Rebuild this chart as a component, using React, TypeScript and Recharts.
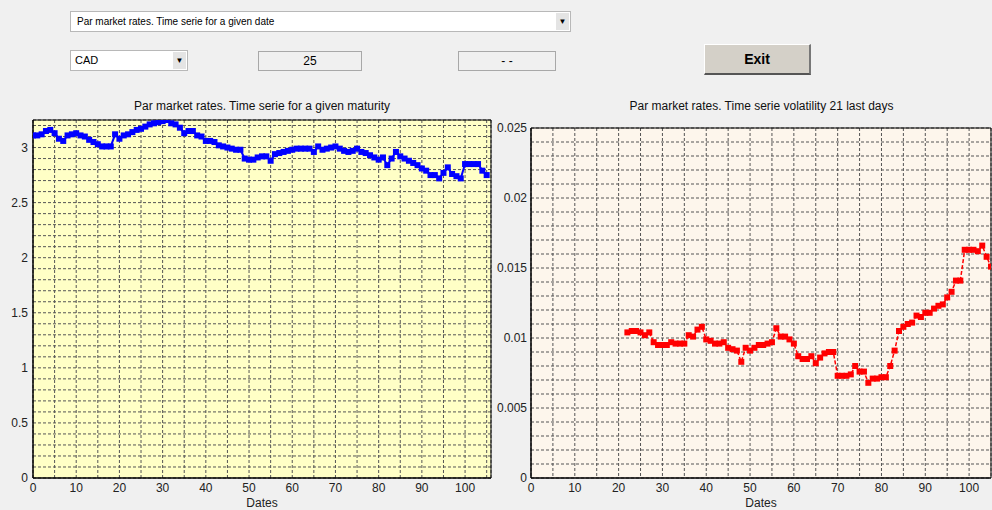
import { LineChart, Line, XAxis, YAxis, CartesianGrid, ReferenceArea } from 'recharts';

// Par market rates, one point per date (left panel)
const rates = [
  3.11, 3.11, 3.12, 3.15, 3.16, 3.13, 3.08, 3.06, 3.11, 3.12,
  3.13, 3.11, 3.10, 3.07, 3.05, 3.03, 3.01, 3.01, 3.01, 3.12,
  3.08, 3.11, 3.12, 3.14, 3.16, 3.17, 3.19, 3.21, 3.22, 3.23,
  3.24, 3.25, 3.22, 3.21, 3.18, 3.13, 3.15, 3.15, 3.11, 3.10,
  3.06, 3.06, 3.05, 3.02, 3.01, 3.00, 2.99, 2.98, 2.98, 2.90,
  2.89, 2.89, 2.91, 2.92, 2.92, 2.88, 2.94, 2.95, 2.96, 2.97,
  2.98, 2.99, 2.99, 2.99, 2.99, 2.96, 3.01, 2.98, 2.99, 3.00,
  3.01, 2.99, 2.97, 2.96, 2.97, 2.99, 2.96, 2.95, 2.93, 2.91,
  2.89, 2.91, 2.84, 2.90, 2.96, 2.92, 2.90, 2.88, 2.86, 2.84,
  2.81, 2.79, 2.75, 2.75, 2.72, 2.77, 2.82, 2.76, 2.74, 2.72,
  2.85, 2.85, 2.85, 2.85, 2.79, 2.75,
];

// 21-day volatility, starts at date 22 (right panel)
const volStart = 22;
const volatility = [
  0.0104, 0.0105, 0.0105, 0.0104, 0.0102, 0.0104, 0.0097, 0.0095, 0.0095, 0.0095,
  0.0097, 0.0096, 0.0096, 0.0096, 0.0102, 0.0101, 0.0106, 0.0108, 0.0099, 0.0098,
  0.0096, 0.0096, 0.0097, 0.0093, 0.0092, 0.0091, 0.0083, 0.0093, 0.0091, 0.0093,
  0.0095, 0.0095, 0.0096, 0.0097, 0.0107, 0.0101, 0.0101, 0.0099, 0.0096, 0.0087,
  0.0085, 0.0085, 0.0087, 0.0082, 0.0086, 0.0089, 0.0090, 0.0090, 0.0073, 0.0073,
  0.0073, 0.0074, 0.0080, 0.0076, 0.0076, 0.0068, 0.0071, 0.0071, 0.0072, 0.0072,
  0.0080, 0.0091, 0.0105, 0.0108, 0.0110, 0.0111, 0.0116, 0.0115, 0.0118, 0.0118,
  0.0121, 0.0123, 0.0124, 0.0129, 0.0133, 0.0141, 0.0141, 0.0163, 0.0163, 0.0163,
  0.0162, 0.0166, 0.0158, 0.0151,
];

const dateTicks = [0, 5, 10, 15, 20, 25, 30, 35, 40, 45, 50, 55, 60, 65, 70, 75, 80, 85, 90, 95, 100, 105];
const rateTicks = Array.from({ length: 33 }, (_, i) => Math.round(i * 10) / 100);
const volTicks = Array.from({ length: 26 }, (_, i) => Math.round(i * 10) / 10000);

const rateData = rates.map((v, i) => ({ date: i, rate: v }));
const volData = volatility.map((v, i) => ({ date: volStart + i, vol: v }));

const font = "'Liberation Sans', Arial, sans-serif";
const narrow = "'Liberation Sans Narrow', 'Liberation Sans', Arial, sans-serif";
const tickStyle = { fill: '#222', fontSize: 12, fontFamily: font };

const square = (color: string) => (p: any) => (
  <rect key={`d${p.index}`} x={p.cx - 3} y={p.cy - 3} width={6} height={6} fill={color} />
);

const fmtDate = (v: number) => (v % 10 === 0 ? String(v) : '');
const fmtRate = (v: number) => (Math.abs(v * 2 - Math.round(v * 2)) < 1e-9 ? String(Math.round(v * 10) / 10) : '');
const fmtVol = (v: number) => (Math.abs(v * 200 - Math.round(v * 200)) < 1e-9 ? String(Math.round(v * 1000) / 1000) : '');

const box = (extra: any) => ({
  position: 'absolute' as const,
  boxSizing: 'border-box' as const,
  fontFamily: narrow,
  ...extra,
});

const Arrow = () => (
  <div style={box({ right: 1, top: 1, bottom: 1, width: 13, background: '#e4e4e4', fontSize: 8, textAlign: 'center', lineHeight: '17px', color: '#000' })}>▼</div>
);

export default function App() {
  return (
    <div style={{ position: 'absolute', left: 0, top: 0, width: 992, height: 510, background: '#f0f0f0', overflow: 'hidden' }}>
      {/* GUI controls */}
      <div style={box({ left: 70, top: 11, width: 501, height: 21, background: '#fff', border: '1px solid #b8b8b8', fontSize: 10, lineHeight: '19px', paddingLeft: 6 })}>
        Par market rates. Time serie for a given date
        <Arrow />
      </div>
      <div style={box({ left: 70, top: 50, width: 118, height: 21, background: '#fff', border: '1px solid #b8b8b8', fontSize: 11, lineHeight: '19px', paddingLeft: 4 })}>
        CAD
        <Arrow />
      </div>
      <div style={box({ left: 258, top: 51, width: 104, height: 20, border: '1px solid #a8a8a8', fontSize: 12, lineHeight: '18px', textAlign: 'center', fontFamily: font })}>25</div>
      <div style={box({ left: 458, top: 51, width: 98, height: 20, border: '1px solid #a8a8a8', fontSize: 12, lineHeight: '18px', textAlign: 'center', fontFamily: font })}>- -</div>
      <div style={box({ left: 704, top: 44, width: 107, height: 31, background: '#d4d0c8', borderTop: '1px solid #fff', borderLeft: '1px solid #fff', borderRight: '2px solid #777', borderBottom: '2px solid #555', fontSize: 14, fontWeight: 'bold', lineHeight: '28px', textAlign: 'center', fontFamily: font })}>Exit</div>

      {/* titles */}
      <div style={box({ left: 33, top: 99, width: 458, textAlign: 'center', fontSize: 12, fontFamily: font, color: '#111' })}>Par market rates. Time serie for a given maturity</div>
      <div style={box({ left: 531, top: 99, width: 461, textAlign: 'center', fontSize: 12, fontFamily: font, color: '#111' })}>Par market rates. Time serie volatility 21 last days</div>

      {/* left panel */}
      <div style={{ position: 'absolute', left: 0, top: 100 }}>
        <LineChart width={500} height={410} data={rateData} margin={{ top: 20, right: 9, bottom: 0, left: 0 }}>
          <CartesianGrid stroke="#555" strokeDasharray="3 2" fill="#ffffc6" fillOpacity={1} />
          <XAxis dataKey="date" type="number" domain={[0, 106]} ticks={dateTicks} tickFormatter={fmtDate} allowDataOverflow
            height={32} tickLine={false} tickSize={0} tickMargin={5} stroke="#000" tick={tickStyle}
            label={{ value: 'Dates', position: 'insideBottom', offset: 3, fill: '#222', fontSize: 12, fontFamily: font }} />
          <YAxis type="number" domain={[0, 3.25]} ticks={rateTicks} tickFormatter={fmtRate} allowDataOverflow interval={0}
            width={33} tickLine={false} tickSize={0} tickMargin={5} stroke="#000" tick={tickStyle} />
          <ReferenceArea x1={0} x2={106} y1={0} y2={3.25} fill="none" stroke="#000" strokeWidth={1} ifOverflow="visible" />
          <Line dataKey="rate" stroke="#0000ff" strokeWidth={2} dot={square('#0000ff')} isAnimationActive={false} />
        </LineChart>
      </div>

      {/* right panel */}
      <div style={{ position: 'absolute', left: 490, top: 100 }}>
        <LineChart width={502} height={410} data={volData} margin={{ top: 28, right: 1, bottom: 0, left: 0 }}>
          <CartesianGrid stroke="#555" strokeDasharray="3 2" fill="#fdf6ec" fillOpacity={1} />
          <XAxis dataKey="date" type="number" domain={[0, 105]} ticks={dateTicks} tickFormatter={fmtDate} allowDataOverflow
            height={32} tickLine={false} tickSize={0} tickMargin={5} stroke="#000" tick={tickStyle}
            label={{ value: 'Dates', position: 'insideBottom', offset: 3, fill: '#222', fontSize: 12, fontFamily: font }} />
          <YAxis type="number" domain={[0, 0.025]} ticks={volTicks} tickFormatter={fmtVol} allowDataOverflow interval={0}
            width={41} tickLine={false} tickSize={0} tickMargin={4} stroke="#000" tick={tickStyle} />
          <ReferenceArea x1={0} x2={105} y1={0} y2={0.025} fill="none" stroke="#000" strokeWidth={1} ifOverflow="visible" />
          <Line dataKey="vol" stroke="#ff0000" strokeWidth={1.5} strokeDasharray="4 2" dot={square('#ff0000')} isAnimationActive={false} />
        </LineChart>
      </div>
    </div>
  );
}
